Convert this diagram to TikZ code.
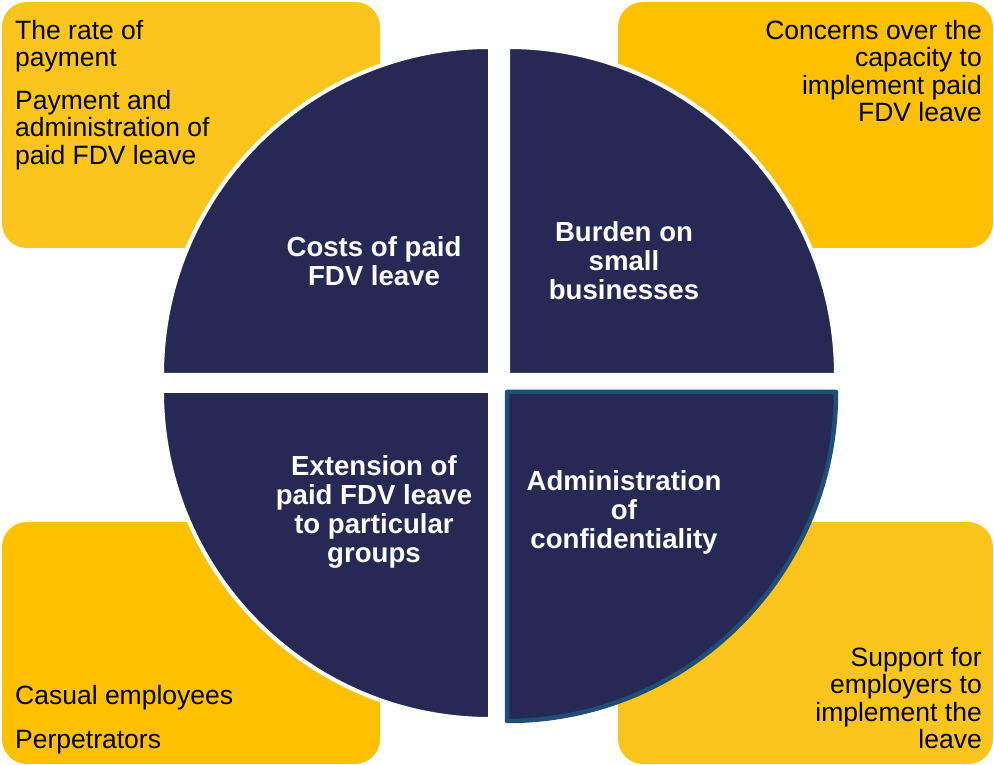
\documentclass[tikz,border=0pt]{standalone}
\usepackage{fontspec}
\setmainfont{Liberation Sans}
\definecolor{navy}{HTML}{262954}
\definecolor{edgeblue}{HTML}{1F4E79}
\definecolor{yelA}{HTML}{FCC51D}
\definecolor{yelB}{HTML}{FFC000}
\begin{document}
\begin{tikzpicture}[x=1pt,y=1pt,
  ybox/.style={rounded corners=25pt},
  quad/.style={fill=navy,draw=white,line width=4pt},
  qtext/.style={anchor=north,inner sep=0pt,align=center,text=white,font=\fontsize{27.6}{29}\selectfont\bfseries},
  ltext/.style={anchor=north west,inner sep=0pt,align=left,font=\fontsize{26.5}{27.4}\selectfont},
  rtext/.style={anchor=north east,inner sep=0pt,align=right,font=\fontsize{26.5}{27.4}\selectfont}]
\useasboundingbox (0,0) rectangle (994,765);
% yellow boxes
\fill[yelA,ybox] (2,517) rectangle (380,763);
\fill[yelB,ybox] (618,517) rectangle (993,763);
\fill[yelB,ybox] (2,1) rectangle (380,243);
\fill[yelA,ybox] (618,1) rectangle (993,243);
% quadrants
\draw[quad] (490,390) -- (162,390) arc[start angle=180,end angle=90,radius=328] -- cycle;
\draw[quad] (508,390) -- (836,390) arc[start angle=0,end angle=90,radius=328] -- cycle;
\draw[quad] (490,374) -- (162,374) arc[start angle=180,end angle=270,radius=328] -- cycle;
\draw[fill=navy,draw=edgeblue,line width=4.5pt,line join=round] (507,373) -- (836,373) arc[start angle=0,end angle=-90,radius=329] -- cycle;
% quadrant labels
\node[qtext] (q1) at (374,529) {Costs of paid\\FDV leave};
\node[qtext] (q2) at (624,544) {Burden on\\small\\businesses};
\node[qtext] (q3) at (374,310) {Extension of\\paid FDV leave\\to particular\\groups};
\node[qtext] (q4) at (624,295) {Administration\\of\\confidentiality};
% box texts
\node[ltext] (t1) at (15,745) {The rate of\\payment};
\node[ltext] (t2) at (15,675) {Payment and\\administration of\\paid FDV leave};
\node[rtext] (t3) at (982,745) {Concerns over the\\capacity to\\implement paid\\FDV leave};
\node[ltext] (t4) at (15,80) {Casual employees};
\node[ltext] (t5) at (15,35) {Perpetrators};
\node[rtext] (t6) at (982,118) {Support for\\employers to\\implement the\\leave};
\end{tikzpicture}
\end{document}
